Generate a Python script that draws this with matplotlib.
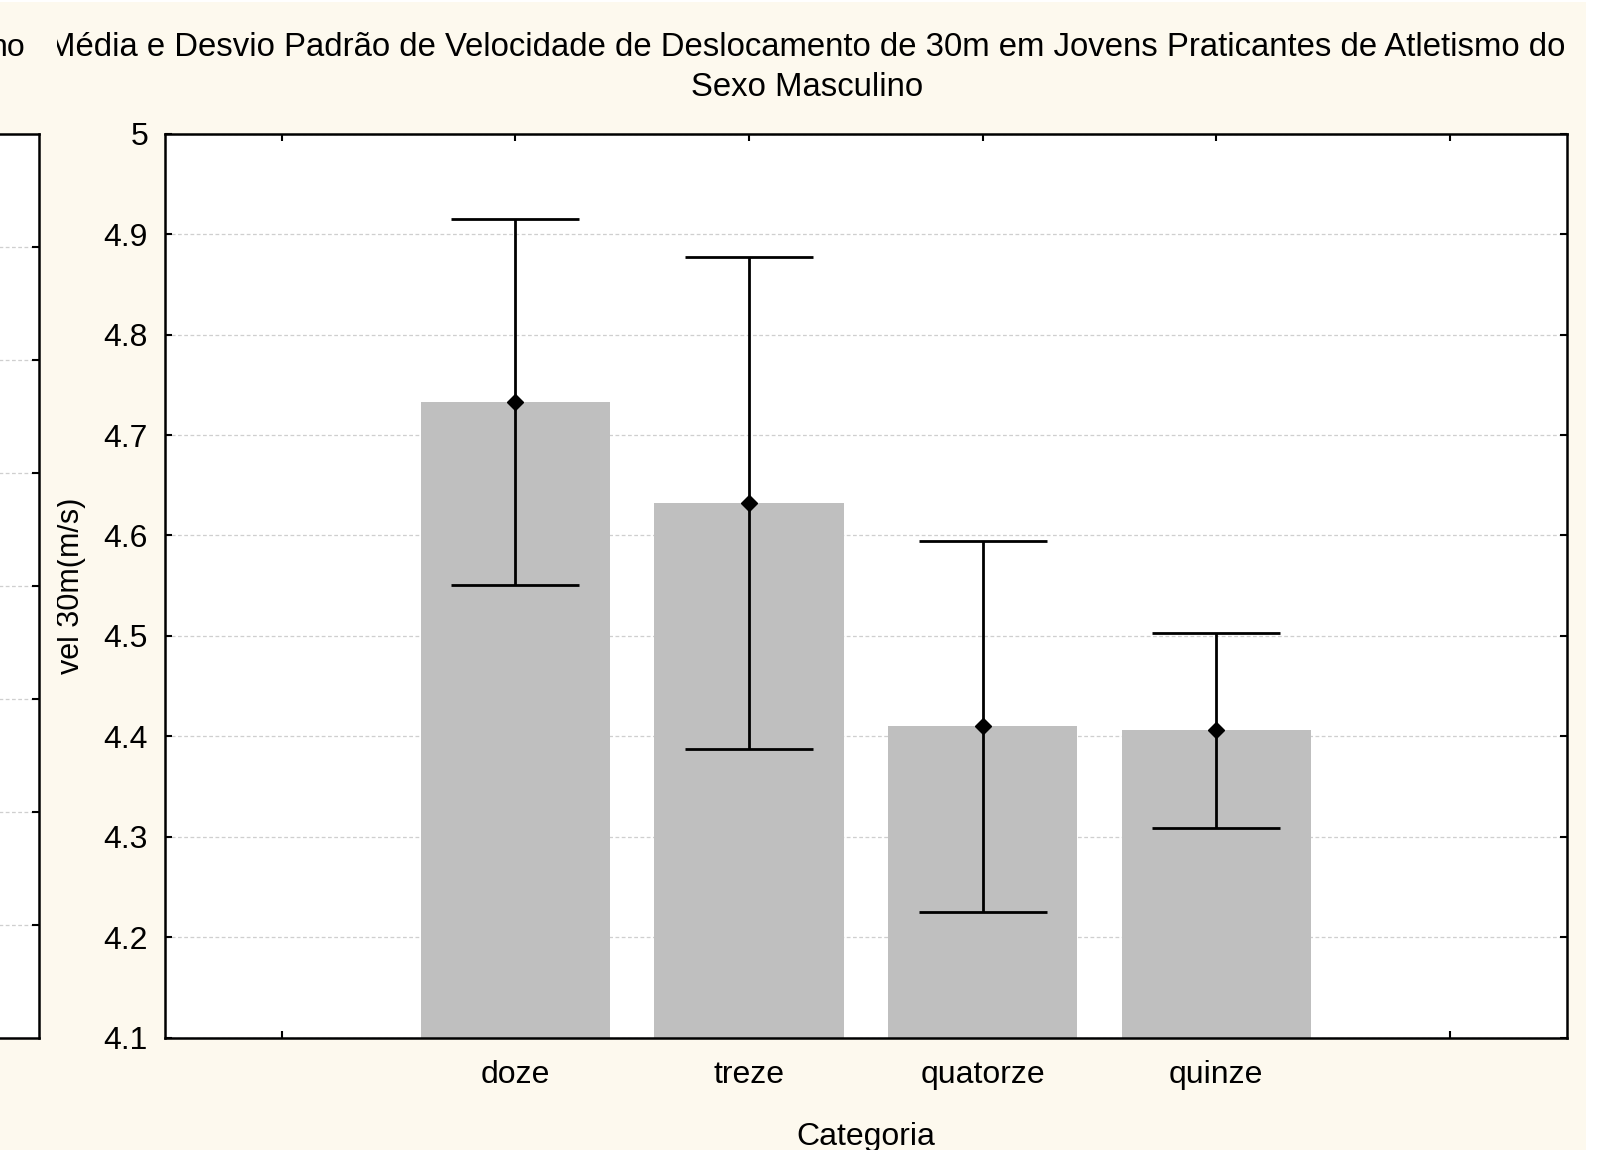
import matplotlib
matplotlib.use('Agg')
import matplotlib.pyplot as plt
from matplotlib.patches import Rectangle

# velocidade de deslocamento de 30m por categoria (media e desvio padrao)
categorias = ['doze', 'treze', 'quatorze', 'quinze']
media = [4.733, 4.632, 4.410, 4.406]
desvio = [0.182, 0.245, 0.185, 0.097]

yticks = [4.1, 4.2, 4.3, 4.4, 4.5, 4.6, 4.7, 4.8, 4.9, 5]
ytick_labels = ['4.1', '4.2', '4.3', '4.4', '4.5', '4.6', '4.7', '4.8', '4.9', '5']

titulo = 'Média e Desvio Padrão de Velocidade de Deslocamento de 30m em Jovens Praticantes de Atletismo do\nSexo Masculino'

creme = '#fdf9ee'
grade = '#cfcfcf'
fs = 23

plt.rcParams['font.family'] = ['Liberation Sans', 'DejaVu Sans']

W, H = 1614, 1150
fig = plt.figure(figsize=(W / 100, H / 100), dpi=100)
fig.patch.set_facecolor(creme)

# painel principal
ax = fig.add_axes([164.7 / W, 1 - 1037.6 / H, 1402 / W, 903.8 / H])
ax.set_facecolor('white')

x = list(range(2, 2 + len(categorias)))
ax.bar(x, media, width=0.81, bottom=0, color='#bfbfbf', edgecolor='none', zorder=2)
ax.errorbar(x, media, yerr=desvio, fmt='D', color='black', markersize=8.5,
            elinewidth=2, capsize=46, capthick=2, zorder=3)

ax.set_xlim(0.5, 6.5)
ax.set_ylim(4.1, 5.0)
ax.set_xticks([1, 2, 3, 4, 5, 6])
ax.set_xticklabels([''] + categorias + [''])
ax.set_yticks(yticks)
ax.set_yticklabels(ytick_labels)
ax.tick_params(direction='in', length=5, width=1.5, top=True, right=True,
               labelsize=fs, colors='black')
ax.tick_params(axis='y', pad=12)
ax.tick_params(axis='x', pad=16)
ax.yaxis.grid(True, linestyle=(0, (3, 2)), color=grade, linewidth=0.9, zorder=0)
ax.set_axisbelow(True)
for s in ax.spines.values():
    s.set_linewidth(1.8)
    s.set_color('black')

ax.set_xlabel('Categoria', fontsize=fs, labelpad=23)
ax.set_ylabel('vel 30m(m/s)', fontsize=22)
ax.yaxis.set_label_coords(-0.067, 0.5)
ax.yaxis.label.set_verticalalignment('center')

fig.text(0.5, 1 - 32 / H, titulo, ha='center', va='top', fontsize=23.7,
         linespacing=1.38)

# fundo do painel vizinho, por cima do inicio do titulo
fig.add_artist(Rectangle((0, 0), 57 / W, 1, transform=fig.transFigure,
                         facecolor=creme, edgecolor='none', zorder=5))
fig.add_artist(Rectangle((1586 / W, 0), 1 - 1586 / W, 1, transform=fig.transFigure,
                         facecolor='white', edgecolor='none', zorder=5))
fig.add_artist(Rectangle((0, 1 - 2 / H), 1, 2 / H, transform=fig.transFigure,
                         facecolor='white', edgecolor='none', zorder=5))

# painel vizinho (so a borda direita aparece)
ax0 = fig.add_axes([-0.5, 1 - 1037.6 / H, 0.5 + 39 / W, 903.8 / H], zorder=6)
ax0.set_facecolor('white')
ax0.set_ylim(0, 8)
ax0.set_yticks(range(1, 8))
ax0.set_xticks([])
ax0.yaxis.grid(True, linestyle=(0, (3, 2)), color=grade, linewidth=0.9)
ax0.tick_params(axis='y', direction='in', length=5, width=1.5, left=False,
                right=True, labelleft=False, labelright=False)
for s in ax0.spines.values():
    s.set_linewidth(1.8)
    s.set_color('black')

fig.text(26 / W, 1 - 33 / H, 'no', ha='right', va='top', fontsize=fs, zorder=7)

fig.savefig('out.png', dpi=100, facecolor=fig.get_facecolor())
